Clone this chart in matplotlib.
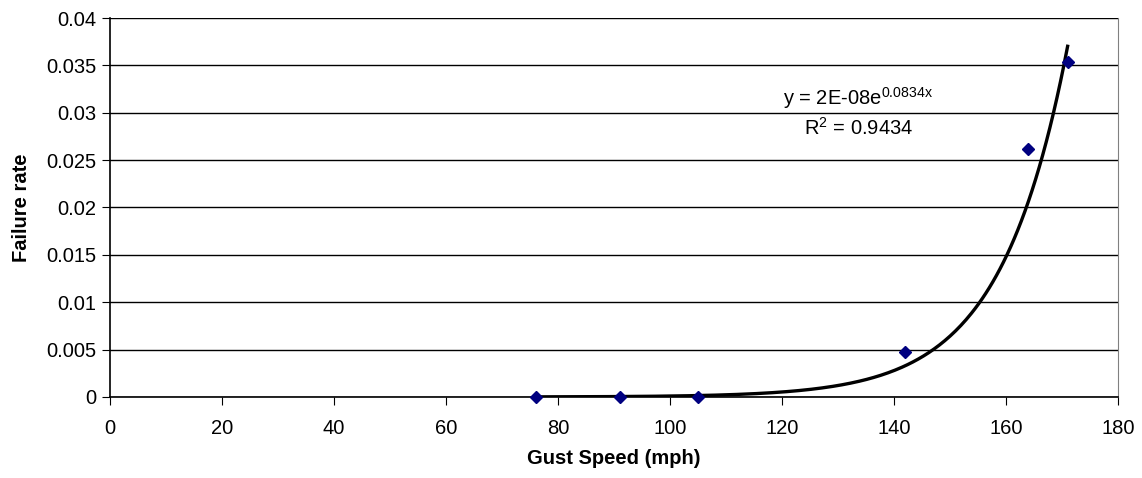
import numpy as np
import matplotlib.pyplot as plt

plt.rcParams['font.family'] = ['Liberation Sans', 'DejaVu Sans']

# observed data
gust_speed = [76, 91, 105, 142, 164, 171]
failure_rate = [0.0, 0.0, 0.0, 0.0047, 0.0262, 0.0354]

# exponential trendline (displayed as y = 2E-08e^0.0834x)
trend_a = 2.37e-8
trend_b = 0.0834

fig = plt.figure(figsize=(11.42, 4.78), dpi=100)
ax = fig.add_axes([0.0963, 0.1695, 0.979 - 0.0963, 0.9623 - 0.1695])

xs = np.linspace(min(gust_speed), max(gust_speed), 300)
ax.plot(xs, trend_a * np.exp(trend_b * xs), color='black', lw=2.4, zorder=3)
ax.plot(gust_speed, failure_rate, 'D', color='#000080', ms=6.5, zorder=4, clip_on=False)

ax.set_xlim(0, 180)
ax.set_ylim(0, 0.04)
ax.set_xticks(range(0, 181, 20))
ax.set_yticks([0, 0.005, 0.01, 0.015, 0.02, 0.025, 0.03, 0.035, 0.04])
ax.set_yticklabels(['0', '0.005', '0.01', '0.015', '0.02', '0.025', '0.03', '0.035', '0.04'])
ax.yaxis.grid(True, color='black', lw=1)
ax.set_axisbelow(True)

ax.spines['top'].set_visible(False)
ax.spines['right'].set_color('#808080')
ax.spines['left'].set_linewidth(1.2)
ax.spines['bottom'].set_linewidth(1.2)
ax.tick_params(direction='out', length=6, labelsize=14.5, color='black')
ax.tick_params(axis='x', pad=10)
ax.tick_params(axis='y', pad=4)

ax.set_xlabel('Gust Speed (mph)', fontsize=14.5, fontweight='bold', labelpad=8)
ax.set_ylabel('Failure rate', fontsize=14.5, fontweight='bold', labelpad=11)

ax.text(133.6, 0.0316, r'y = 2E-08e$^{\mathregular{0.0834x}}$', fontsize=14.5, ha='center', va='center')
ax.text(133.6, 0.0284, r'R$^{\mathregular{2}}$ = 0.9434', fontsize=14.5, ha='center', va='center')

fig.savefig('out.png', dpi=100)
